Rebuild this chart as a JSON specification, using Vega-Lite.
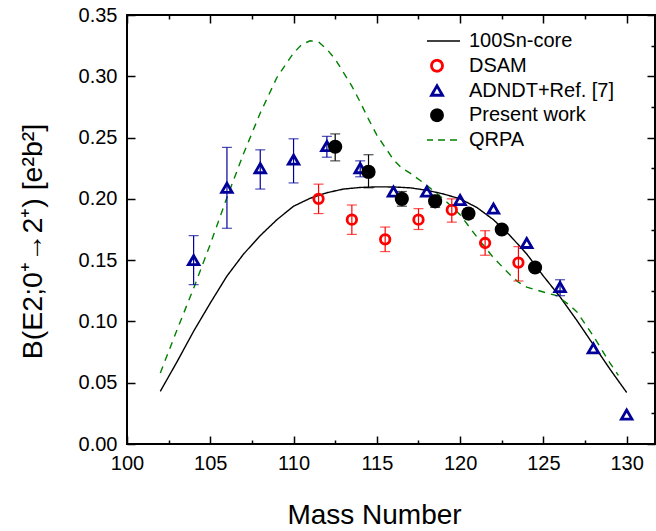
{
  "$schema": "https://vega.github.io/schema/vega-lite/v6.json",
  "width": 528,
  "height": 429,
  "autosize": "none",
  "padding": {"left": 127, "top": 15, "right": 1, "bottom": 87},
  "config": {
    "font": "Liberation Sans",
    "view": {"stroke": "black", "strokeWidth": 2},
    "axis": {"grid": false, "domain": false, "tickColor": "black", "tickWidth": 1.5, "labelColor": "black", "titleColor": "black", "labelFontSize": 20, "titleFontWeight": "normal"}
  },
  "datasets": {
    "curves": [
      {"series": "100Sn-core", "x": 102, "y": 0.043},
      {"series": "100Sn-core", "x": 103, "y": 0.067},
      {"series": "100Sn-core", "x": 104, "y": 0.092},
      {"series": "100Sn-core", "x": 105, "y": 0.115},
      {"series": "100Sn-core", "x": 106, "y": 0.137},
      {"series": "100Sn-core", "x": 107, "y": 0.155},
      {"series": "100Sn-core", "x": 108, "y": 0.170},
      {"series": "100Sn-core", "x": 109, "y": 0.183},
      {"series": "100Sn-core", "x": 110, "y": 0.194},
      {"series": "100Sn-core", "x": 111, "y": 0.2005},
      {"series": "100Sn-core", "x": 112, "y": 0.205},
      {"series": "100Sn-core", "x": 113, "y": 0.208},
      {"series": "100Sn-core", "x": 114, "y": 0.2093},
      {"series": "100Sn-core", "x": 115, "y": 0.2098},
      {"series": "100Sn-core", "x": 116, "y": 0.2097},
      {"series": "100Sn-core", "x": 117, "y": 0.209},
      {"series": "100Sn-core", "x": 118, "y": 0.207},
      {"series": "100Sn-core", "x": 119, "y": 0.204},
      {"series": "100Sn-core", "x": 120, "y": 0.200},
      {"series": "100Sn-core", "x": 121, "y": 0.193},
      {"series": "100Sn-core", "x": 122, "y": 0.183},
      {"series": "100Sn-core", "x": 123, "y": 0.170},
      {"series": "100Sn-core", "x": 124, "y": 0.155},
      {"series": "100Sn-core", "x": 125, "y": 0.137},
      {"series": "100Sn-core", "x": 126, "y": 0.120},
      {"series": "100Sn-core", "x": 127, "y": 0.101},
      {"series": "100Sn-core", "x": 128, "y": 0.081},
      {"series": "100Sn-core", "x": 129, "y": 0.061},
      {"series": "100Sn-core", "x": 130, "y": 0.042},
      {"series": "QRPA", "x": 102, "y": 0.058},
      {"series": "QRPA", "x": 103, "y": 0.093},
      {"series": "QRPA", "x": 104, "y": 0.127},
      {"series": "QRPA", "x": 105, "y": 0.163},
      {"series": "QRPA", "x": 106, "y": 0.201},
      {"series": "QRPA", "x": 107, "y": 0.237},
      {"series": "QRPA", "x": 108, "y": 0.270},
      {"series": "QRPA", "x": 109, "y": 0.299},
      {"series": "QRPA", "x": 110, "y": 0.319},
      {"series": "QRPA", "x": 110.5, "y": 0.326},
      {"series": "QRPA", "x": 111, "y": 0.329},
      {"series": "QRPA", "x": 111.5, "y": 0.328},
      {"series": "QRPA", "x": 112, "y": 0.322},
      {"series": "QRPA", "x": 112.5, "y": 0.314},
      {"series": "QRPA", "x": 113, "y": 0.303},
      {"series": "QRPA", "x": 113.5, "y": 0.292},
      {"series": "QRPA", "x": 114, "y": 0.279},
      {"series": "QRPA", "x": 114.5, "y": 0.265},
      {"series": "QRPA", "x": 115, "y": 0.252},
      {"series": "QRPA", "x": 115.5, "y": 0.242},
      {"series": "QRPA", "x": 116, "y": 0.232},
      {"series": "QRPA", "x": 116.5, "y": 0.225},
      {"series": "QRPA", "x": 117, "y": 0.221},
      {"series": "QRPA", "x": 118, "y": 0.211},
      {"series": "QRPA", "x": 119, "y": 0.200},
      {"series": "QRPA", "x": 120, "y": 0.187},
      {"series": "QRPA", "x": 121, "y": 0.169},
      {"series": "QRPA", "x": 122, "y": 0.152},
      {"series": "QRPA", "x": 123, "y": 0.138},
      {"series": "QRPA", "x": 123.5, "y": 0.132},
      {"series": "QRPA", "x": 124, "y": 0.128},
      {"series": "QRPA", "x": 125, "y": 0.124},
      {"series": "QRPA", "x": 125.8, "y": 0.121},
      {"series": "QRPA", "x": 126.5, "y": 0.114},
      {"series": "QRPA", "x": 127, "y": 0.108},
      {"series": "QRPA", "x": 128, "y": 0.088},
      {"series": "QRPA", "x": 128.5, "y": 0.077},
      {"series": "QRPA", "x": 129, "y": 0.066},
      {"series": "QRPA", "x": 129.5, "y": 0.056}
    ],
    "points": [
      {"series": "DSAM", "x": 111.5, "y": 0.200, "lo": 0.188, "hi": 0.212},
      {"series": "DSAM", "x": 113.5, "y": 0.183, "lo": 0.171, "hi": 0.195},
      {"series": "DSAM", "x": 115.5, "y": 0.167, "lo": 0.157, "hi": 0.177},
      {"series": "DSAM", "x": 117.5, "y": 0.183, "lo": 0.175, "hi": 0.192},
      {"series": "DSAM", "x": 119.5, "y": 0.191, "lo": 0.181, "hi": 0.200},
      {"series": "DSAM", "x": 121.5, "y": 0.164, "lo": 0.154, "hi": 0.174},
      {"series": "DSAM", "x": 123.5, "y": 0.148, "lo": 0.133, "hi": 0.161},
      {"series": "ADNDT+Ref. [7]", "x": 104, "y": 0.150, "lo": 0.130, "hi": 0.170},
      {"series": "ADNDT+Ref. [7]", "x": 106, "y": 0.209, "lo": 0.176, "hi": 0.242},
      {"series": "ADNDT+Ref. [7]", "x": 108, "y": 0.225, "lo": 0.208, "hi": 0.240},
      {"series": "ADNDT+Ref. [7]", "x": 110, "y": 0.232, "lo": 0.213, "hi": 0.249},
      {"series": "ADNDT+Ref. [7]", "x": 112, "y": 0.243, "lo": 0.234, "hi": 0.251},
      {"series": "ADNDT+Ref. [7]", "x": 114, "y": 0.225, "lo": 0.218, "hi": 0.231},
      {"series": "ADNDT+Ref. [7]", "x": 116, "y": 0.206},
      {"series": "ADNDT+Ref. [7]", "x": 118, "y": 0.206},
      {"series": "ADNDT+Ref. [7]", "x": 120, "y": 0.199},
      {"series": "ADNDT+Ref. [7]", "x": 122, "y": 0.192},
      {"series": "ADNDT+Ref. [7]", "x": 124, "y": 0.164},
      {"series": "ADNDT+Ref. [7]", "x": 126, "y": 0.128, "lo": 0.121, "hi": 0.134},
      {"series": "ADNDT+Ref. [7]", "x": 128, "y": 0.078},
      {"series": "ADNDT+Ref. [7]", "x": 130, "y": 0.024},
      {"series": "Present work", "x": 112.5, "y": 0.2425, "lo": 0.231, "hi": 0.253},
      {"series": "Present work", "x": 114.5, "y": 0.222, "lo": 0.209, "hi": 0.236},
      {"series": "Present work", "x": 116.5, "y": 0.200, "lo": 0.194, "hi": 0.206},
      {"series": "Present work", "x": 118.5, "y": 0.198, "lo": 0.193, "hi": 0.203},
      {"series": "Present work", "x": 120.5, "y": 0.188, "lo": 0.184, "hi": 0.192},
      {"series": "Present work", "x": 122.5, "y": 0.175},
      {"series": "Present work", "x": 124.5, "y": 0.144}
    ]
  },
  "layer": [
    {
      "layer": [
        {
          "data": {"name": "curves"},
          "mark": {"type": "line", "strokeWidth": 1.4},
          "encoding": {
            "x": {"field": "x", "type": "quantitative", "scale": {"domain": [100, 131.7], "nice": false, "zero": false},
              "axis": {"orient": "bottom", "values": [100, 102.5, 105, 107.5, 110, 112.5, 115, 117.5, 120, 122.5, 125, 127.5, 130], "format": "d",
                "labelExpr": "datum.value % 5 === 0 ? datum.label : ''",
                "tickSize": {"condition": {"test": "datum.value % 5 === 0", "value": -8}, "value": -4},
                "labelPadding": 17, "labelFlush": false, "labelOverlap": false,
                "title": "Mass Number", "titleFontSize": 28, "titleX": 247, "titleY": 79, "titleBaseline": "alphabetic", "titleAnchor": "middle"}},
            "y": {"field": "y", "type": "quantitative", "scale": {"domain": [0, 0.35], "nice": false, "zero": false},
              "axis": {"orient": "left", "values": [0, 0.025, 0.05, 0.075, 0.1, 0.125, 0.15, 0.175, 0.2, 0.225, 0.25, 0.275, 0.3, 0.325, 0.35],
                "labelExpr": "round(datum.value * 1000) % 50 === 0 ? format(datum.value, '.2f') : ''",
                "tickSize": {"condition": {"test": "round(datum.value * 1000) % 50 === 0", "value": -8}, "value": -4},
                "labelPadding": 18, "labelFlush": false, "labelOverlap": false,
                "title": "B(E2;0⁺→2⁺) [e²b²]", "titleFontSize": 28.5, "titleX": -95, "titleY": 226, "titleBaseline": "middle", "titleAnchor": "middle"}},
            "color": {"field": "series", "type": "nominal", "legend": null,
              "scale": {"range": ["black", "#000099", "#ff0000", "black", "#008000"]}},
            "strokeDash": {"field": "series", "type": "nominal", "scale": {"domain": ["100Sn-core", "QRPA"], "range": [[1, 0], [7, 6]]}, "legend": null}
          }
        },
        {
          "data": {"name": "points"},
          "transform": [{"filter": "isValid(datum.lo)"}],
          "mark": {"type": "rule", "strokeWidth": 1.2},
          "encoding": {
            "x": {"field": "x", "type": "quantitative"},
            "y": {"field": "lo", "type": "quantitative"},
            "y2": {"field": "hi"},
            "color": {"field": "series", "type": "nominal", "legend": null}
          }
        },
        {
          "data": {"name": "points"},
          "transform": [{"filter": "isValid(datum.lo)"}],
          "mark": {"type": "tick", "orient": "horizontal", "size": 10, "thickness": 1.2},
          "encoding": {
            "x": {"field": "x", "type": "quantitative"},
            "y": {"field": "lo", "type": "quantitative"},
            "color": {"field": "series", "type": "nominal", "legend": null}
          }
        },
        {
          "data": {"name": "points"},
          "transform": [{"filter": "isValid(datum.hi)"}],
          "mark": {"type": "tick", "orient": "horizontal", "size": 10, "thickness": 1.2},
          "encoding": {
            "x": {"field": "x", "type": "quantitative"},
            "y": {"field": "hi", "type": "quantitative"},
            "color": {"field": "series", "type": "nominal", "legend": null}
          }
        },
        {
          "data": {"name": "points"},
          "mark": {"type": "point", "filled": false, "strokeWidth": 2.8, "opacity": 1},
          "encoding": {
            "x": {"field": "x", "type": "quantitative"},
            "y": {"field": "y", "type": "quantitative"},
            "color": {"field": "series", "type": "nominal", "legend": null},
            "fill": {"field": "series", "type": "nominal", "scale": {"domain": ["DSAM", "ADNDT+Ref. [7]", "Present work"], "range": ["transparent", "transparent", "black"]}, "legend": null},
            "size": {"field": "series", "type": "nominal", "scale": {"domain": ["DSAM", "ADNDT+Ref. [7]", "Present work"], "range": [90, 130, 220]}, "legend": null},
            "shape": {"field": "series", "type": "nominal",
              "scale": {"domain": ["100Sn-core", "DSAM", "ADNDT+Ref. [7]", "Present work", "QRPA"], "range": ["M-4.2,0H4.2", "circle", "triangle-up", "circle", "M-4.2,0H4.2"]},
              "legend": {"title": null, "orient": "none", "legendX": 300, "legendY": 16, "padding": 0, "symbolSize": 120,
                "labelFontSize": 20, "labelColor": "black", "labelOffset": 22, "rowPadding": 4.75, "clipHeight": 20,
                "symbolOpacity": 1,
                "symbolStrokeColor": {"expr": "scale('color', datum.value)"},
                "symbolFillColor": {"expr": "datum.value === 'Present work' ? 'black' : 'transparent'"},
                "symbolDash": {"expr": "datum.value === 'QRPA' ? [7, 5] : [1, 0]"},
                "symbolStrokeWidth": {"expr": "(datum.value === 'QRPA' || datum.value === '100Sn-core') ? 1.4 : 2.8"}
              }}
          }
        }
      ]
    },
    {
      "data": {"name": "curves"},
      "mark": {"type": "point", "opacity": 0},
      "encoding": {
        "x": {"field": "x", "type": "quantitative", "scale": {"domain": [100, 131.7], "nice": false, "zero": false},
          "axis": {"orient": "top", "values": [100, 102.5, 105, 107.5, 110, 112.5, 115, 117.5, 120, 122.5, 125, 127.5, 130], "labels": false, "title": null,
            "tickSize": {"condition": {"test": "datum.value % 5 === 0", "value": -8}, "value": -4}}},
        "y": {"field": "y", "type": "quantitative", "scale": {"domain": [0, 0.35], "nice": false, "zero": false},
          "axis": {"orient": "right", "values": [0, 0.025, 0.05, 0.075, 0.1, 0.125, 0.15, 0.175, 0.2, 0.225, 0.25, 0.275, 0.3, 0.325, 0.35], "labels": false, "title": null,
            "tickSize": {"condition": {"test": "round(datum.value * 1000) % 50 === 0", "value": -8}, "value": -4}}}
      }
    }
  ],
  "resolve": {"scale": {"x": "independent", "y": "independent"}}
}
